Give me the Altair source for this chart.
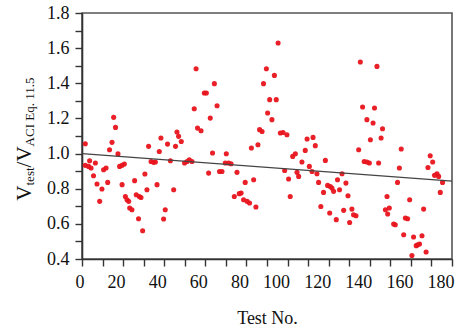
import altair as alt
import pandas as pd

# Test number (x) and V_test / V_ACI Eq. 11.5 ratio (y)
test_no = [
    1.6, 1.6, 3.2, 3.7, 4.4, 5.6, 6.5, 7.3, 8.6, 9.7,
    10.5, 11.7, 12.5, 13.4, 14.6, 15.4, 16.3, 17.5, 18.3, 19.5,
    20.6, 19.5, 21.1, 21.9, 22.7, 23.2, 24.3, 25.6, 26.4, 27.9,
    28.7, 27.5, 29.5, 30.6, 31.6, 32.4, 33.6, 34.8, 35.7, 36.5,
    37.6, 38.4, 39.7, 40.5, 41.6, 43.0, 44.6, 45.5, 46.2, 47.0,
    48.3, 49.9, 51.1, 52.2, 54.6, 55.5, 56.2, 57.9, 53.5, 59.5,
    60.5, 64.4, 65.7, 62.4, 63.5, 61.6, 66.9, 68.1, 70.2, 69.7,
    71.3, 72.5, 75.4, 74.1, 76.5, 77.4, 78.6, 80.3, 81.5, 84.6,
    79.4, 83.5, 82.4, 85.6, 86.4, 87.6, 88.3, 89.7, 93.6, 91.3,
    94.5, 90.3, 92.4, 95.4, 96.5, 97.8, 99.7, 98.6, 100.5, 101.3,
    102.5, 103.8, 104.6, 105.4, 107.0, 108.6, 109.5, 112.4, 113.5, 110.6,
    111.9, 115.1, 116.2, 114.3, 117.5, 118.4, 119.5, 120.8, 121.6, 122.4,
    120.5, 123.7, 124.3, 125.3, 126.5, 127.3, 128.4, 129.4, 130.2, 131.3,
    132.1, 133.3, 134.6, 135.4, 136.5, 137.3, 138.6, 139.8, 138.6, 140.3,
    141.6, 142.3, 143.5, 144.3, 145.5, 146.2, 147.6, 148.7, 149.5, 148.4,
    151.6, 152.4, 153.5, 154.4, 155.3, 156.5, 157.3, 158.4, 159.4, 160.5,
    161.3, 162.6, 163.3, 164.2, 165.4, 166.2, 167.4, 168.3, 169.4, 170.6,
    171.5, 172.7, 173.5, 174.3, 175.4,
]
ratio = [
    1.056, 0.933, 0.927, 0.959, 0.918, 0.874, 0.946, 0.827, 0.728, 0.798,
    0.908, 0.918, 0.836, 1.022, 1.064, 1.206, 1.149, 0.998, 0.927, 0.933,
    0.941, 0.823, 0.756, 0.737, 0.728, 0.690, 0.680, 0.846, 0.766, 0.756,
    0.750, 0.629, 0.561, 0.884, 0.794, 1.041, 0.955, 0.950, 0.952, 0.823,
    1.012, 1.089, 0.628, 0.680, 1.054, 0.959, 0.794, 1.041, 1.123, 1.098,
    1.069, 0.946, 0.955, 0.965, 1.255, 1.483, 1.145, 1.130, 0.955, 1.345,
    1.345, 1.398, 1.272, 1.202, 1.003, 0.889, 0.898, 0.898, 0.999, 0.946,
    0.946, 0.942, 0.893, 0.756, 0.772, 0.776, 0.737, 0.728, 0.719, 0.696,
    0.836, 0.851, 1.032, 1.050, 1.136, 1.126, 1.398, 1.483, 1.445, 1.307,
    1.307, 1.231, 1.193, 1.629, 1.117, 1.120, 1.107, 0.904, 0.855, 0.756,
    0.984, 0.999, 0.893, 0.870, 0.952, 1.018, 1.083, 1.092, 1.045, 0.927,
    0.898, 0.836, 0.699, 0.885, 0.779, 0.961, 0.819, 0.813, 0.804, 0.785,
    0.662, 0.624, 0.851, 0.794, 0.885, 0.677, 0.832, 0.760, 0.608, 0.684,
    0.652, 0.646, 1.022, 1.521, 1.265, 0.955, 0.952, 0.946, 1.193, 1.079,
    1.174, 1.259, 1.496, 0.946, 1.089, 1.141, 0.680, 0.656, 0.690, 0.756,
    0.599, 0.595, 0.836, 0.918, 1.026, 0.538, 0.633, 0.629, 0.737, 0.420,
    0.525, 0.476, 0.481, 0.485, 0.532, 0.684, 0.440, 0.921, 0.988, 0.952,
    0.876, 0.885, 0.870, 0.779, 0.836,
]

# Trend line end points
trend_x = [0, 180]
trend_y = [1.0, 0.843]

x_ticks = list(range(0, 181, 10))
y_ticks = [0.4, 0.5, 0.6, 0.7, 0.8, 0.9, 1.0, 1.1, 1.2, 1.3, 1.4, 1.5, 1.6, 1.7, 1.8]

pts = pd.DataFrame({"test": test_no, "ratio": ratio})
trend = pd.DataFrame({"test": trend_x, "ratio": trend_y})
one = pd.DataFrame({"k": [0]})

FONT = "Liberation Serif"

xscale = alt.Scale(domain=[0, 180], nice=False, zero=False)
yscale = alt.Scale(domain=[0.4, 1.8], nice=False, zero=False)

xaxis = alt.Axis(
    values=x_ticks,
    labelExpr="datum.value % 20 == 0 ? datum.label : ''",
    labelAlign="right",
    labelOffset=2,
    labelOverlap=False,
    labelFlush=False,
    labelFont=FONT,
    labelFontSize=18,
    grid=False,
    title="Test No.",
    titleY=64,
    titleBaseline="alphabetic",
    titleFont=FONT,
    titleFontSize=18,
    titleFontWeight="normal",
    titleColor="#111",
    tickSize=7,
    labelPadding=7,
)
yaxis = alt.Axis(
    values=y_ticks,
    labelExpr="round(datum.value * 10) % 2 == 0 ? format(datum.value, '.1f') : ''",
    labelOverlap=False,
    labelFlush=False,
    labelFont=FONT,
    labelFontSize=18,
    grid=False,
    title=None,
    tickSize=7,
    labelPadding=6,
)

points = alt.Chart(pts).mark_circle(size=26, color="#e8141c", opacity=0.95).encode(
    x=alt.X("test:Q", scale=xscale, axis=xaxis),
    y=alt.Y("ratio:Q", scale=yscale, axis=yaxis),
)

line = alt.Chart(trend).mark_line(color="#444444", strokeWidth=1.2).encode(
    x=alt.X("test:Q", scale=xscale, axis=xaxis),
    y=alt.Y("ratio:Q", scale=yscale, axis=yaxis),
)

def piece(txt, size, xpos, ypos):
    return alt.Chart(one).mark_text(
        text=txt, font=FONT, fontSize=size, angle=270, align="left",
        baseline="alphabetic", color="#111",
    ).encode(x=alt.value(xpos), y=alt.value(ypos))

title_layers = [
    piece("V", 21, -51, 187.7),
    piece("test", 13, -48, 172.5),
    piece("/V", 21, -51, 154.4),
    piece("ACI Eq. 11.5", 13, -48, 133.4),
]

chart = alt.layer(points, line, *title_layers).properties(
    width=370,
    height=246,
    padding={"left": 82, "top": 13, "right": 5, "bottom": 72},
    autosize=alt.AutoSizeParams(type="none"),
    background="white",
).configure_view(
    stroke="#555555", strokeWidth=1.6
).configure_axis(
    labelColor="#111",
    domainColor="#333333",
    domainWidth=1.6,
    tickColor="#333333",
    tickWidth=1.4,
)

chart.save("out.html", embed_options={"renderer": "svg", "actions": False})
